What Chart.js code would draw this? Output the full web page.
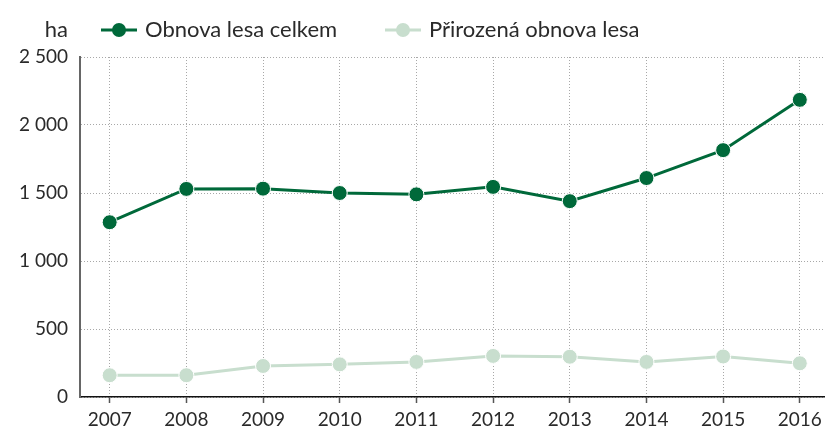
<!DOCTYPE html>
<html>
<head>
<meta charset="utf-8">
<script src="https://cdn.jsdelivr.net/npm/chart.js@4/dist/chart.umd.min.js"></script>
<style>
  html, body { margin: 0; padding: 0; background: #fff; }
  #wrap { width: 833px; height: 428px; position: relative; }
</style>
</head>
<body>
<div id="wrap"><canvas id="reChart" width="833" height="428"></canvas></div>
<script>
const years = [2007, 2008, 2009, 2010, 2011, 2012, 2013, 2014, 2015, 2016];
const obnovaCelkem = [1285, 1530, 1532, 1500, 1490, 1545, 1440, 1610, 1815, 2185];
const prirozenaObnova = [160, 160, 228, 240, 258, 302, 296, 258, 298, 248];
const yTicks = [0, 500, 1000, 1500, 2000, 2500];

const darkGreen = '#00693a';
const lightGreen = '#c8dece';
const fontFamily = 'Lato, "Open Sans", sans-serif';

function fmt(v) {
    return String(v).replace(/\B(?=(\d{3})+(?!\d))/g, ' ');
}

// legend + unit label drawn by hand, like the original
const legendPlugin = {
    id: 'customLegend',
    afterDraw(chart) {
        const c = chart.ctx;
        const y = 30;
        c.save();
        c.font = '22px ' + fontFamily;
        c.fillStyle = '#2a2a2a';
        c.textBaseline = 'middle';
        c.textAlign = 'right';
        c.fillText('ha', 68, y);
        const items = [
            { x: 101, ds: chart.data.datasets[0] },
            { x: 385, ds: chart.data.datasets[1] }
        ];
        items.forEach(it => {
            c.strokeStyle = it.ds.borderColor;
            c.lineWidth = 3;
            c.beginPath();
            c.moveTo(it.x, y);
            c.lineTo(it.x + 36, y);
            c.stroke();
            c.fillStyle = it.ds.borderColor;
            c.beginPath();
            c.arc(it.x + 18, y, 7, 0, Math.PI * 2);
            c.fill();
            c.fillStyle = '#2a2a2a';
            c.textAlign = 'left';
            c.fillText(it.ds.label, it.x + 44, y);
        });
        c.restore();
    }
};

const ctx = document.getElementById('reChart').getContext('2d');
const reChart = new Chart(ctx, {
    type: 'line',
    data: {
        datasets: [
            {
                label: 'Obnova lesa celkem',
                data: years.map((yr, i) => ({ x: yr, y: obnovaCelkem[i] })),
                borderColor: darkGreen,
                backgroundColor: darkGreen,
                borderWidth: 3,
                pointRadius: 7.5,
                pointBorderColor: '#fff',
                pointBorderWidth: 1,
                pointBackgroundColor: darkGreen,
                tension: 0
            },
            {
                label: 'Přirozená obnova lesa',
                data: years.map((yr, i) => ({ x: yr, y: prirozenaObnova[i] })),
                borderColor: lightGreen,
                backgroundColor: lightGreen,
                borderWidth: 3,
                pointRadius: 7.5,
                pointBorderColor: '#fff',
                pointBorderWidth: 1,
                pointBackgroundColor: lightGreen,
                tension: 0
            }
        ]
    },
    options: {
        responsive: false,
        animation: false,
        layout: { padding: { top: 57, left: 0, right: 0, bottom: 0 } },
        plugins: {
            legend: { display: false },
            tooltip: { enabled: false }
        },
        scales: {
            x: {
                type: 'linear',
                min: 2006.613,
                max: 2016.322,
                afterBuildTicks: axis => {
                    axis.ticks = years.map(v => ({ value: v }));
                },
                afterFit: axis => { axis.height = 31; },
                grid: {
                    color: '#a8a8a8',
                    lineWidth: 1,
                    drawTicks: true,
                    tickLength: 6,
                    tickColor: '#555',
                    tickWidth: 1.5,
                    tickBorderDash: []
                },
                border: { display: true, color: '#111', width: 1.5, dash: [1, 2] },
                ticks: {
                    callback: v => String(v),
                    color: '#2a2a2a',
                    font: { family: fontFamily, size: 19 },
                    padding: 5,
                    maxRotation: 0
                }
            },
            y: {
                min: 0,
                max: 2500,
                afterBuildTicks: axis => {
                    axis.ticks = yTicks.map(v => ({ value: v }));
                },
                afterFit: axis => { axis.width = 80; },
                grid: {
                    color: '#a8a8a8',
                    lineWidth: 1,
                    drawTicks: false
                },
                border: { display: true, color: '#666', width: 2, dash: [1, 2] },
                ticks: {
                    callback: v => fmt(v),
                    color: '#2a2a2a',
                    font: { family: fontFamily, size: 19 },
                    padding: 12
                }
            }
        }
    },
    plugins: [legendPlugin]
});
</script>
</body>
</html>
